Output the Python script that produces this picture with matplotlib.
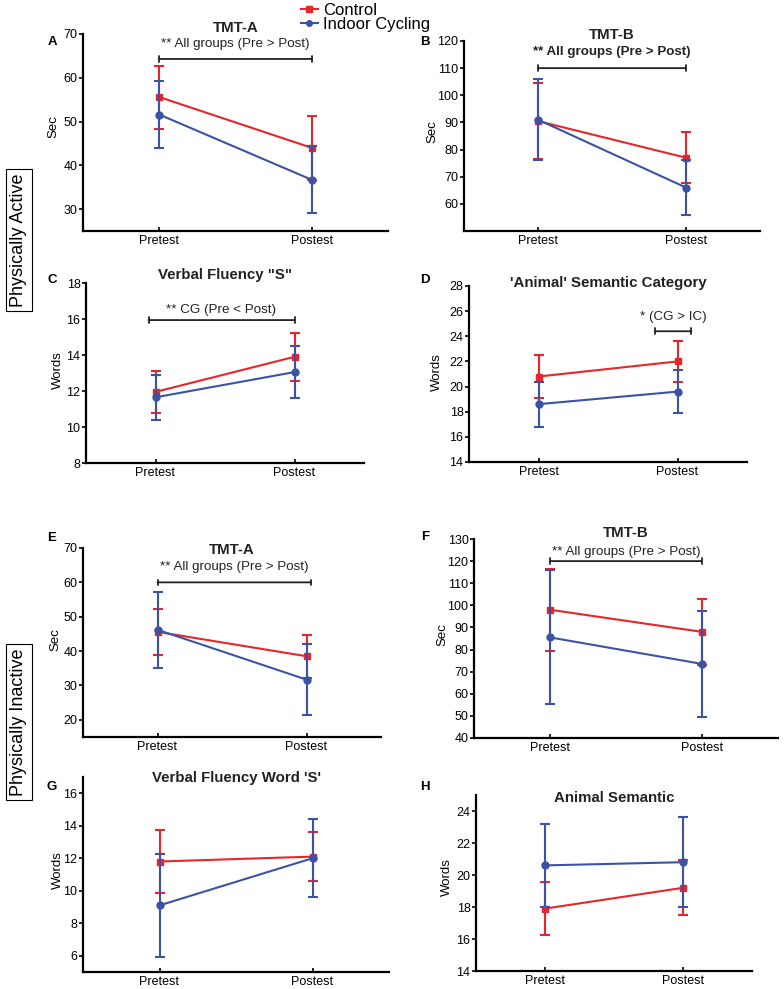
import numpy as np
import matplotlib
matplotlib.use("Agg")
import matplotlib.pyplot as plt
from matplotlib.lines import Line2D

plt.rcParams['font.family'] = ['Liberation Sans', 'DejaVu Sans']

W, H = 784, 989
red = '#e8252a'
blue = '#3a53a4'

phases = ['Pretest', 'Postest']

# panel data: means and SDs (Control, Indoor Cycling)
a_cg = [55.6, 44.0]; a_cg_sd = [7.2, 7.3]
a_ic = [51.6, 36.7]; a_ic_sd = [7.7, 7.7]

b_cg = [90.5, 77.0]; b_cg_sd = [14.0, 9.5]
b_ic = [91.0, 66.0]; b_ic_sd = [15.0, 10.2]

c_cg = [11.95, 13.9]; c_cg_sd = [1.15, 1.35]
c_ic = [11.65, 13.05]; c_ic_sd = [1.25, 1.45]

d_cg = [20.8, 22.0]; d_cg_sd = [1.7, 1.6]
d_ic = [18.6, 19.6]; d_ic_sd = [1.8, 1.7]

e_cg = [45.6, 38.5]; e_cg_sd = [6.7, 6.3]
e_ic = [46.2, 31.7]; e_ic_sd = [11.0, 10.3]

f_cg = [98.0, 88.0]; f_cg_sd = [18.5, 14.9]
f_ic = [85.5, 73.5]; f_ic_sd = [30.3, 24.0]

g_cg = [11.8, 12.1]; g_cg_sd = [1.95, 1.5]
g_ic = [9.1, 12.0]; g_ic_sd = [3.15, 2.4]

h_cg = [17.9, 19.2]; h_cg_sd = [1.65, 1.72]
h_ic = [20.6, 20.8]; h_ic_sd = [2.6, 2.8]


def px_rect(l, r, t, b):
    return [l / W, 1 - b / H, (r - l) / W, (b - t) / H]


fig = plt.figure(figsize=(W / 100, H / 100), dpi=100)

# (letter, rect px, ylim, yticks, title, title_y px, ylabel, ylabel pos px, data)
panels = [
    ('A', (83, 388, 34, 231), (25, 70), np.arange(30, 71, 10), 'TMT-A', 28, 'Sec', (53, 127),
     a_cg, a_cg_sd, a_ic, a_ic_sd),
    ('B', (464, 760, 41, 231), (50, 120), np.arange(60, 121, 10), 'TMT-B', 35, 'Sec', (432, 132),
     b_cg, b_cg_sd, b_ic, b_ic_sd),
    ('C', (86, 364, 283, 463), (8, 18), np.arange(8, 19, 2), 'Verbal Fluency "S"', 275, 'Words', (58, 370),
     c_cg, c_cg_sd, c_ic, c_ic_sd),
    ('D', (469, 747, 286, 462), (14, 28), np.arange(14, 29, 2), "'Animal' Semantic Category", 283, 'Words', (437, 372),
     d_cg, d_cg_sd, d_ic, d_ic_sd),
    ('E', (83, 381, 548, 737), (15, 70), np.arange(20, 71, 10), 'TMT-A', 550, 'Sec', (55, 640),
     e_cg, e_cg_sd, e_ic, e_ic_sd),
    ('F', (474, 778, 539, 738), (40, 130), np.arange(40, 131, 10), 'TMT-B', 533, 'Sec', (442, 635),
     f_cg, f_cg_sd, f_ic, f_ic_sd),
    ('G', (83, 389, 777, 972), (5, 17), np.arange(6, 17, 2), "Verbal Fluency Word 'S'", 778, 'Words', (58, 870),
     g_cg, g_cg_sd, g_ic, g_ic_sd),
    ('H', (476, 752, 795, 971), (14, 25), np.arange(14, 25, 2), 'Animal Semantic', 798, 'Words', (447, 877),
     h_cg, h_cg_sd, h_ic, h_ic_sd),
]

letter_pos = {'A': (52, 42), 'B': (425, 42), 'C': (52, 280), 'D': (425, 280),
              'E': (52, 538), 'F': (425, 537), 'G': (52, 787), 'H': (425, 787)}

axes = {}
x = np.arange(len(phases))
for (letter, rect, ylim, yticks, title, ty, ylab, ypos,
     cg, cg_sd, ic, ic_sd) in panels:
    ax = fig.add_axes(px_rect(*rect))
    axes[letter] = ax
    ax.errorbar(x, cg, yerr=cg_sd, color=red, marker='s', ms=5, lw=1.5,
                capsize=3.8, capthick=1.5, elinewidth=1.5, zorder=3)
    ax.errorbar(x, ic, yerr=ic_sd, color=blue, marker='o', ms=5, lw=1.5,
                capsize=3.8, capthick=1.5, elinewidth=1.5, zorder=4)
    ax.set_xlim(-0.5, 1.5)
    ax.set_ylim(*ylim)
    ax.set_yticks(yticks)
    ax.set_xticks(x)
    ax.set_xticklabels(phases, fontsize=9)
    ax.tick_params(axis='y', labelsize=9, direction='out', length=3, width=1.2, pad=1)
    ax.tick_params(axis='x', direction='in', length=3, width=1.2, pad=3)
    for s in ['top', 'right']:
        ax.spines[s].set_visible(False)
    for s in ['left', 'bottom']:
        ax.spines[s].set_linewidth(1.6)
    cx = (rect[0] + rect[1]) / 2
    fig.text(cx / W, 1 - ty / H, title, ha='center', va='center',
             fontsize=10.8, fontweight='bold', color='#222222')
    fig.text(ypos[0] / W, 1 - ypos[1] / H, ylab, ha='center', va='center',
             rotation=90, fontsize=9.5)
    lx, ly = letter_pos[letter]
    fig.text(lx / W, 1 - ly / H, letter, ha='center', va='center',
             fontsize=9.5, fontweight='bold')


def bracket(ax, x0, x1, y, text, ty, bold=False):
    ax.annotate('', xy=(x0, y), xytext=(x1, y),
                arrowprops=dict(arrowstyle='|-|,widthA=0.2,widthB=0.2',
                                lw=1.3, color='#222222', shrinkA=0, shrinkB=0))
    ax.text((x0 + x1) / 2, ty, text, ha='center', va='center', fontsize=9.6,
            fontweight='bold' if bold else 'normal', color='#222222')


bracket(axes['A'], 0, 1, 64.3, '** All groups (Pre > Post)', 67.8)
bracket(axes['B'], 0, 1, 110, '** All groups (Pre > Post)', 116, bold=True)
bracket(axes['C'], -0.05, 1.0, 15.94, '** CG (Pre < Post)', 16.5)
bracket(axes['D'], 0.84, 1.1, 24.4, '* (CG > IC)', 25.5)
bracket(axes['E'], 0, 1.03, 60, '** All groups (Pre > Post)', 64.6)
bracket(axes['F'], 0, 1, 120, '** All groups (Pre > Post)', 124)

# side labels
box = dict(boxstyle='square,pad=0.25', fc='white', ec='black', lw=0.8)
fig.text(19 / W, 1 - 240 / H, 'Physically Active', rotation=90, ha='center',
         va='center', fontsize=13, bbox=box)
fig.text(19 / W, 1 - 722 / H, 'Physically Inactive', rotation=90, ha='center',
         va='center', fontsize=13, bbox=box)

handles = [Line2D([], [], color=red, marker='s', ms=4, lw=1.5),
           Line2D([], [], color=blue, marker='o', ms=4, lw=1.5)]
fig.legend(handles, ['Control', 'Indoor Cycling'], loc='upper left',
           bbox_to_anchor=(291 / W, 1 + 7 / H), frameon=False, fontsize=12,
           handlelength=1.0, handletextpad=0.3, labelspacing=-0.08,
           borderpad=0.1)

fig.savefig('out.png', dpi=100)
